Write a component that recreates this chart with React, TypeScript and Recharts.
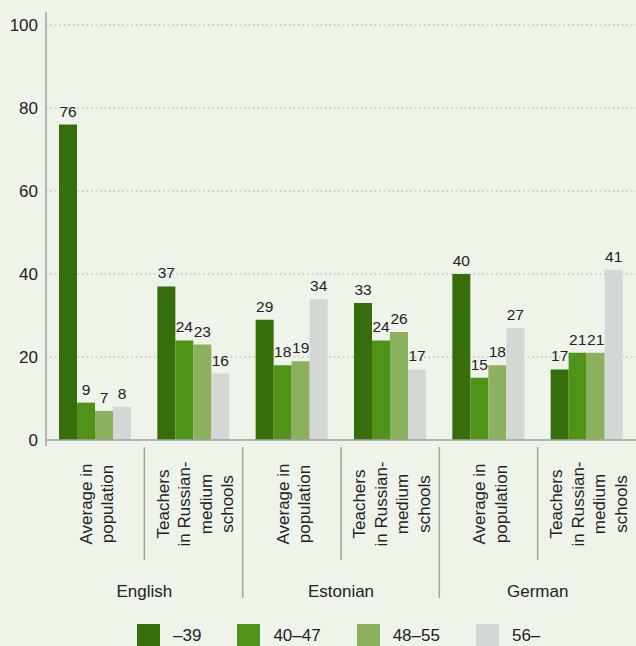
import { BarChart, Bar, XAxis, YAxis, CartesianGrid, LabelList, Legend } from "recharts";

const subLabels = [
  ["Average in", "population"],
  ["Teachers", "in Russian-", "medium", "schools"],
  ["Average in", "population"],
  ["Teachers", "in Russian-", "medium", "schools"],
  ["Average in", "population"],
  ["Teachers", "in Russian-", "medium", "schools"],
];
const groups = ["English", "Estonian", "German"];
const ageBands = ["–39", "40–47", "48–55", "56–"];

const upTo39 = [76, 37, 29, 33, 40, 17];
const from40to47 = [9, 24, 18, 24, 15, 21];
const from48to55 = [7, 23, 19, 26, 18, 21];
const from56 = [8, 16, 34, 17, 27, 41];

const yTicks = [0, 20, 40, 60, 80, 100];

const colors = ["#376e0c", "#4f9318", "#8bb05e", "#d4d8d4"];
const seriesKeys = ["a", "b", "c", "d"];

const data = subLabels.map((lines, i) => ({
  key: i,
  a: upTo39[i],
  b: from40to47[i],
  c: from48to55[i],
  d: from56[i],
}));

const FONT = '"Liberation Sans", Arial, sans-serif';
const TEXT = "#222";
const AXIS = "#a3a3a3";

function CategoryTick(props: any) {
  const { x, y, payload, index } = props;
  const half = payload?.offset || 49;
  const axisY = y - 8;
  const lines = subLabels[index] || [];
  const midY = axisY + 64;
  const step = 21.5;
  return (
    <g>
      {lines.map((line, j) => {
        const lx = x + 2 + (j - (lines.length - 1) / 2) * step;
        return (
          <text
            key={j}
            x={lx}
            y={midY}
            transform={`rotate(-90, ${lx}, ${midY})`}
            textAnchor="middle"
            dominantBaseline="central"
            fontSize={17}
            fontFamily={FONT}
            fill={TEXT}
          >
            {line}
          </text>
        );
      })}
      {index === 0 && (
        <line x1={x - half} x2={x - half} y1={axisY} y2={axisY + 6} stroke={AXIS} strokeWidth={1.5} />
      )}
      {index % 2 === 0 && (
        <>
          <line x1={x + half} x2={x + half} y1={axisY + 7} y2={axisY + 120} stroke={AXIS} strokeWidth={1.5} />
          <text
            x={x + half}
            y={axisY + 157}
            textAnchor="middle"
            fontSize={17}
            fontFamily={FONT}
            fill={TEXT}
          >
            {groups[index / 2]}
          </text>
        </>
      )}
      {index % 2 === 0 && index > 0 && (
        <line x1={x - half} x2={x - half} y1={axisY + 7} y2={axisY + 158} stroke={AXIS} strokeWidth={1.5} />
      )}
    </g>
  );
}

function ValueTick(props: any) {
  const { x, y, payload } = props;
  return (
    <g>
      {payload.value === 100 && (
        <line x1={x + 8} x2={x + 8} y1={y - 13} y2={y} stroke={AXIS} strokeWidth={1.5} />
      )}
      <text x={x} y={y} textAnchor="end" dominantBaseline="central" fontSize={17} fontFamily={FONT} fill={TEXT}>
        {payload.value}
      </text>
    </g>
  );
}

function LegendRow() {
  return (
    <div style={{ display: "flex", paddingLeft: 137, paddingTop: 4, fontFamily: FONT, fontSize: 17, color: TEXT }}>
      {ageBands.map((band, i) => (
        <div key={band} style={{ display: "flex", alignItems: "center", marginRight: 36 }}>
          <span style={{ display: "inline-block", width: 23, height: 23, background: colors[i], marginRight: 13 }} />
          <span>{band}</span>
        </div>
      ))}
    </div>
  );
}

export default function App() {
  return (
    <div style={{ position: "absolute", left: 0, top: 0, width: 636, height: 646, background: "#eff4ea" }}>
      <BarChart
        width={636}
        height={646}
        data={data}
        margin={{ top: 25, right: 0, bottom: 0, left: 0 }}
        barCategoryGap={13}
        barGap={0}
      >
        <CartesianGrid vertical={false} stroke="#a8a8a8" strokeDasharray="1.5 3" />
        <XAxis
          dataKey="key"
          interval={0}
          height={180}
          tickLine={false}
          axisLine={{ stroke: AXIS, strokeWidth: 1.5 }}
          tick={<CategoryTick />}
        />
        <YAxis
          width={46}
          domain={[0, 100]}
          ticks={yTicks}
          tickLine={false}
          axisLine={{ stroke: AXIS, strokeWidth: 1.5 }}
          tick={<ValueTick />}
        />
        <Legend verticalAlign="bottom" height={26} content={<LegendRow />} />
        {seriesKeys.map((k, i) => (
          <Bar key={k} dataKey={k} name={ageBands[i]} fill={colors[i]} isAnimationActive={false}>
            <LabelList dataKey={k} position="top" offset={8} fontSize={15.5} fontFamily={FONT} fill={TEXT} />
          </Bar>
        ))}
      </BarChart>
    </div>
  );
}
